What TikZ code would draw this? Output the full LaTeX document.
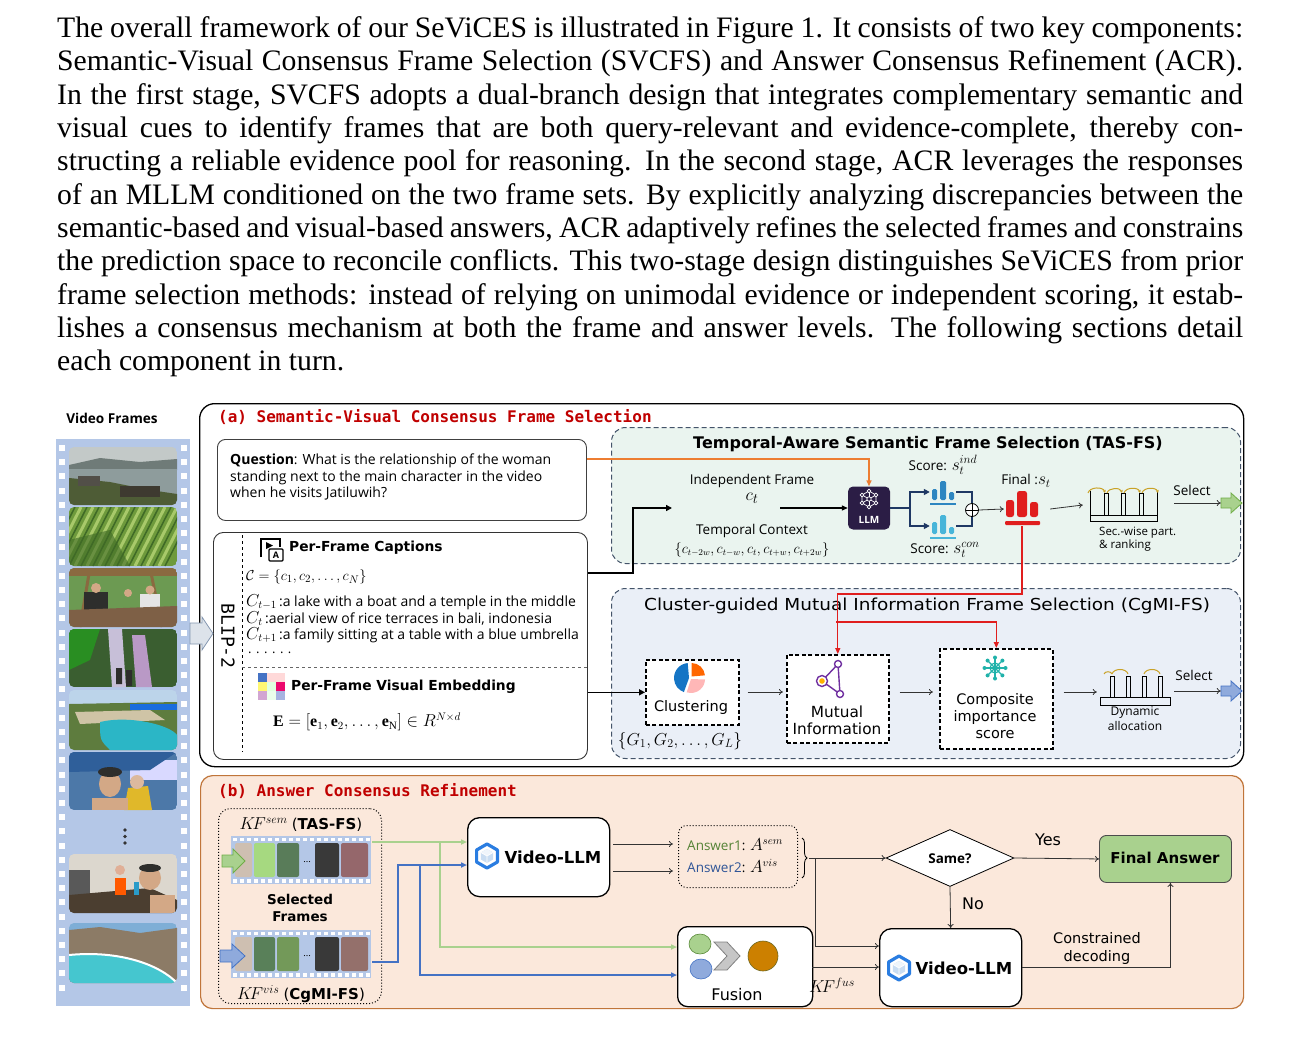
\documentclass[tikz,border=0pt]{standalone}
\usepackage{graphicx}
\usepackage{fontspec}
\setmainfont{Liberation Serif}
\newfontfamily\osans{Open Sans}
\newfontfamily\comic{DejaVu Sans}
\newfontfamily\monof{DejaVu Sans Mono}
\usetikzlibrary{arrows.meta,calc,shapes.geometric,decorations.pathreplacing}
\newcommand\fsz[2]{\fontsize{#1}{#2}\selectfont}
\definecolor{redtitle}{HTML}{C00000}
\definecolor{filmblue}{HTML}{B4C7E7}
\definecolor{tasfill}{HTML}{EAF4EF}
\definecolor{cgfill}{HTML}{EAEFF7}
\definecolor{dashc}{HTML}{44546A}
\definecolor{bfill}{HTML}{FBE8DB}
\definecolor{bborder}{HTML}{C0753A}
\definecolor{orangec}{HTML}{ED7D31}
\definecolor{navyc}{HTML}{1F3864}
\definecolor{redc}{HTML}{E01E1E}
\definecolor{greenl}{HTML}{A9D18E}
\definecolor{greend}{HTML}{70AD47}
\definecolor{bluel}{HTML}{8FAADC}
\definecolor{blued}{HTML}{4472C4}
\definecolor{llmpurple}{HTML}{2B1D45}
\definecolor{goldc}{HTML}{C9A227}
\definecolor{vblue}{HTML}{2A7DE1}
\definecolor{cubeb}{HTML}{C9DDF2}
\definecolor{ansgreen}{HTML}{548235}
\definecolor{ansblue}{HTML}{2F5597}
\definecolor{barblue}{HTML}{2E86C1}
\definecolor{barcyan}{HTML}{48B5D9}
\definecolor{tealc}{HTML}{20B2AA}
\definecolor{purpc}{HTML}{7030A0}
\definecolor{blipfill}{HTML}{DDE3EA}
\definecolor{blipdraw}{HTML}{8497B0}
% photo colours
\definecolor{pSky}{HTML}{C3C9C8}
\definecolor{pLake}{HTML}{8E9C9C}
\definecolor{pMount}{HTML}{6F7B78}
\definecolor{pLand}{HTML}{4E5C36}
\definecolor{pTemple}{HTML}{3E3A30}
\definecolor{pRice}{HTML}{6E9A3C}
\definecolor{pRiceL}{HTML}{A8C96A}
\definecolor{pRiceD}{HTML}{3F6A26}
\definecolor{pRoof}{HTML}{8A6A40}
\definecolor{pLeaf}{HTML}{6C9A52}
\definecolor{pDark}{HTML}{2E2E2C}
\definecolor{pSkin}{HTML}{D3A886}
\definecolor{pTable}{HTML}{7E6046}
\definecolor{pJungle}{HTML}{3A5E30}
\definecolor{pFall}{HTML}{C7BFD8}
\definecolor{pSkyB}{HTML}{BCD4EA}
\definecolor{pCliff}{HTML}{CFC4A6}
\definecolor{pSea}{HTML}{2BB6C6}
\definecolor{pGrass}{HTML}{5E7C3E}
\definecolor{pCanopy}{HTML}{2F5F9A}
\definecolor{pOcean}{HTML}{4C78A8}
\definecolor{pVest}{HTML}{E0B82A}
\definecolor{pWall}{HTML}{DCD7CE}
\definecolor{pHill}{HTML}{8C7B66}
\definecolor{pBay}{HTML}{45C6CF}
\definecolor{pBlueSky}{HTML}{7FAED6}
\tikzset{
  blk/.style={line width=1.5pt, -{Triangle[length=6pt,width=6pt]}},
  barr/.style={line width=0.8pt, draw=black!80, -{To[length=4pt,width=6pt]}},
  navyl/.style={draw=navyc, line width=1.6pt},
  dbox/.style={draw=black, line width=1.6pt, dash pattern=on 4pt off 2.5pt, fill=white, inner sep=0pt, anchor=north west},
  rbox/.style={draw=black, line width=1.3pt, fill=white, rounded corners=12pt, inner sep=0pt, anchor=north west},
  ctext/.style={font=\comic\fsz{14.5}{17}, align=center, inner sep=0pt},
  stext/.style={font=\osans\fsz{13.5}{16}, inner sep=0pt},
}
\newcommand\sstrip[6]{%
  \fill[filmblue] (231,#1) rectangle (371,{#1+48});
  \foreach \k in {0,...,19} {\fill[white] ({233+\k*7},{#1+1.5}) rectangle ++(3.5,3.5);
                             \fill[white] ({233+\k*7},{#1+43}) rectangle ++(3.5,3.5);}
  \fill[#2, rounded corners=2pt] (235,{#1+7}) rectangle (252,{#1+41});
  \fill[#3, rounded corners=2pt] (254,{#1+7}) rectangle (275,{#1+41});
  \fill[#4, rounded corners=2pt] (277,{#1+7}) rectangle (299,{#1+41});
  \node[font=\fsz{10}{10}, inner sep=0] at (307,{#1+26}) {...};
  \fill[#5, rounded corners=2pt] (315,{#1+7}) rectangle (339,{#1+41});
  \fill[#6, rounded corners=2pt] (341,{#1+7}) rectangle (368,{#1+41});
}
\newcommand\vllmicon[2]{%
  \begin{scope}[shift={(#1,#2)}]
    \draw[vblue, line width=3.2pt, line join=round] (90:12) -- (30:12) -- (-30:12) -- (-90:12) -- (-150:12) -- (150:12) -- cycle;
    \fill[cubeb] (90:7) -- (30:7) -- (-30:7) -- (-90:7) -- (-150:7) -- (150:7) -- cycle;
    \fill[white!70!cubeb] (0,0) -- (-30:7) -- (-90:7) -- (-150:7) -- cycle;
    \draw[white, line width=0.7pt] (0,0) -- (90:7) (0,0) -- (-30:7) (0,0) -- (-150:7);
  \end{scope}}
\begin{document}
\begin{tikzpicture}[x=1pt,y=-1pt]
\useasboundingbox (0,0) rectangle (1300,1043);
\fill[white] (0,0) rectangle (1300,1043);

% ---------------- paragraph
\node[anchor=north west, inner sep=0pt, align=left, font=\fsz{29.7}{33.3}] (para) at (57,16.5) {%
\makebox[1186pt][s]{The overall framework of our SeViCES is illustrated in Figure 1. It consists of two key components:}\\
\makebox[1186pt][s]{Semantic-Visual Consensus Frame Selection (SVCFS) and Answer Consensus Refinement (ACR).}\\
\makebox[1186pt][s]{In the first stage, SVCFS adopts a dual-branch design that integrates complementary semantic and}\\
\makebox[1186pt][s]{visual cues to identify frames that are both query-relevant and evidence-complete, thereby con-}\\
\makebox[1186pt][s]{structing a reliable evidence pool for reasoning. In the second stage, ACR leverages the responses}\\
\makebox[1186pt][s]{of an MLLM conditioned on the two frame sets. By explicitly analyzing discrepancies between the}\\
\makebox[1186pt][s]{semantic-based and visual-based answers, ACR adaptively refines the selected frames and constrains}\\
\makebox[1186pt][s]{the prediction space to reconcile conflicts. This two-stage design distinguishes SeViCES from prior}\\
\makebox[1186pt][s]{frame selection methods: instead of relying on unimodal evidence or independent scoring, it estab-}\\
\makebox[1186pt][s]{lishes a consensus mechanism at both the frame and answer levels. The following sections detail}\\
each component in turn.};

% ---------------- video frames strip
\node[font=\osans\bfseries\fsz{13.6}{16}] (vflabel) at (112,418) {Video Frames};
\fill[filmblue] (56,439) rectangle (190,1006);
\foreach \k in {0,...,38} {\fill[white] (59,{445+\k*14.2}) rectangle ++(6,6);
                           \fill[white] (181,{445+\k*14.2}) rectangle ++(6,6);}
% frame 1: lake and temple
\begin{scope}
  \clip[rounded corners=5pt] (69,447) rectangle (177,505);
  \fill[pSky] (69,447) rectangle (177,505);
  \fill[pMount] (69,465) -- (100,458) -- (140,462) -- (177,459) -- (177,470) -- (69,470) -- cycle;
  \fill[pLake] (69,469) rectangle (177,505);
  \fill[pLand] (69,478) -- (110,482) -- (150,490) -- (177,494) -- (177,505) -- (69,505) -- cycle;
  \fill[pTemple] (120,486) rectangle (160,497);
  \fill[pTemple!70!gray] (78,476) rectangle (100,486);
\end{scope}
% frame 2: rice terraces
\begin{scope}
  \clip[rounded corners=5pt] (69,507) rectangle (177,566);
  \fill[pRice] (69,507) rectangle (177,566);
  \foreach \d in {0,12,...,120} {\draw[pRiceL, line width=3pt] ({69+\d},507) -- ({39+\d},566);
                                  \draw[pRiceD, line width=1.5pt] ({75+\d},507) -- ({45+\d},566);}
  \fill[pRiceD, opacity=0.6] (69,540) -- (110,530) -- (130,566) -- (69,566) -- cycle;
\end{scope}
% frame 3: family at table
\begin{scope}
  \clip[rounded corners=5pt] (69,568) rectangle (177,627);
  \fill[pLeaf] (69,568) rectangle (177,627);
  \fill[pRoof] (69,568) rectangle (177,576);
  \draw[pRoof, line width=3pt] (90,568) -- (80,627) (150,568) -- (162,627);
  \fill[pDark] (84,592) rectangle (108,620);
  \fill[pSkin] (96,588) circle (5);
  \fill[white!80!gray] (140,594) rectangle (160,620);
  \fill[pSkin] (150,590) circle (4.5) (128,593) circle (4);
  \fill[pTable] (69,610) -- (177,606) -- (177,627) -- (69,627) -- cycle;
\end{scope}
% frame 4: waterfall
\begin{scope}
  \clip[rounded corners=5pt] (69,629) rectangle (177,687);
  \fill[pJungle] (69,629) rectangle (177,687);
  \fill[pFall] (108,629) -- (122,629) -- (126,687) -- (112,687) -- cycle;
  \fill[pFall!80!violet] (132,635) -- (145,635) -- (152,687) -- (136,687) -- cycle;
  \fill[green!30!pJungle] (69,629) -- (100,629) -- (90,660) -- (69,670) -- cycle;
  \fill[pDark] (116,668) rectangle (122,684) (126,670) rectangle (132,686);
\end{scope}
% frame 5: coast
\begin{scope}
  \clip[rounded corners=5pt] (69,690) rectangle (177,750);
  \fill[pSkyB] (69,690) rectangle (177,750);
  \fill[pGrass] (69,704) -- (177,702) -- (177,750) -- (69,750) -- cycle;
  \fill[pCliff] (75,712) -- (150,710) -- (165,720) -- (80,724) -- cycle;
  \fill[pSea] (100,722) .. controls (130,715) and (170,725) .. (177,735) -- (177,750) -- (110,750) .. controls (100,740) .. (100,722);
  \fill[pSea!60!blue] (130,704) rectangle (177,710);
\end{scope}
% frame 6: boat selfie
\begin{scope}
  \clip[rounded corners=5pt] (69,752) rectangle (177,810);
  \fill[pOcean] (69,752) rectangle (177,810);
  \fill[white!85!blue] (130,760) rectangle (177,780);
  \fill[pCanopy] (69,752) -- (177,752) -- (150,770) -- (69,772) -- cycle;
  \fill[pSkin] (110,784) ellipse (11 and 13);
  \fill[pDark] (110,772) ellipse (12 and 5);
  \fill[pVest] (128,788) -- (148,786) -- (152,810) -- (124,810) -- cycle;
  \fill[pSkin!80!white] (137,782) circle (7);
  \fill[pSkin] (92,798) rectangle (128,810);
\end{scope}
% frame 7: interior
\begin{scope}
  \clip[rounded corners=5pt] (69,854) rectangle (177,913);
  \fill[pWall] (69,854) rectangle (177,913);
  \fill[gray!70!black] (69,870) rectangle (90,913);
  \fill[pDark!80!brown] (69,895) -- (150,888) -- (177,900) -- (177,913) -- (69,913) -- cycle;
  \fill[pSkin] (150,878) ellipse (11 and 12);
  \fill[pDark] (150,868) ellipse (11 and 4);
  \fill[pSkin] (150,895) rectangle (175,913);
  \fill[pSkin!70!pink] (120,870) circle (5);
  \fill[orange!70!red] (115,878) rectangle (126,895);
  \fill[cyan!60!teal] (134,882) rectangle (139,895);
\end{scope}
% frame 8: hills and bay
\begin{scope}
  \clip[rounded corners=5pt] (69,923) rectangle (177,983);
  \fill[pBlueSky] (69,923) rectangle (177,983);
  \fill[pHill] (69,930) -- (100,927) -- (140,933) -- (177,928) -- (177,983) -- (69,983) -- cycle;
  \fill[pBay] (69,955) .. controls (120,950) and (160,965) .. (177,983) -- (69,983) -- cycle;
  \draw[white, line width=2pt] (69,955) .. controls (120,950) and (160,965) .. (177,983);
\end{scope}
\fill[black!80] (125,830) circle (1.8) (125,836.5) circle (1.8) (125,843) circle (1.8);

% ---------------- panel (a)
\node[draw, line width=1.3pt, rounded corners=15pt, minimum width=1044pt, minimum height=363pt, inner sep=0pt, anchor=north west] (panelA) at (199,403) {};
\node[anchor=west, font=\monof\bfseries\fsz{16}{19}, text=redtitle, inner sep=0pt] (tA) at (218,417) {(a) Semantic-Visual Consensus Frame Selection};

% question
\node[draw=black!75, line width=0.9pt, rounded corners=8pt, minimum width=369pt, minimum height=81pt, anchor=north west, inner sep=0pt] (qbox) at (217,439) {};
\node[anchor=north west, align=left, font=\osans\fsz{14}{16.3}, inner sep=0pt] (qtext) at (230,454) {\textbf{Question}: What is the relationship of the woman\\standing next to the main character in the video\\when he visits Jatiluwih?};

% captions box
\node[draw=black!80, line width=0.9pt, rounded corners=10pt, minimum width=374pt, minimum height=227pt, anchor=north west, inner sep=0pt] (capbox) at (213,532) {};
\draw[dashed, line width=0.7pt] (242,535) -- (242,752);
\draw[dashed, line width=0.6pt, black!60] (242,667) -- (587,667);
\node[rotate=-90, font=\monof\fsz{18}{20}, inner sep=0pt] (blip) at (228,636) {BLIP-2};
\draw[fill=blipfill, draw=blipdraw, line width=0.8pt] (190,623) -- (202,623) -- (202,617) -- (213,633.5) -- (202,650) -- (202,644) -- (190,644) -- cycle;

% captions icon
\draw[line width=1.3pt] (261,557) -- (261,539) -- (280,539) -- (280,547);
\fill (266,542) -- (273,545.5) -- (266,549) -- cycle;
\draw[line width=1.2pt, rounded corners=1pt, fill=white] (269,549) rectangle (283,561);
\node[font=\osans\bfseries\fsz{9}{9}, inner sep=0pt] (aicon) at (276,555.3) {A};
\node[anchor=west, font=\comic\bfseries\fsz{13.8}{16}, inner sep=0pt] (capt) at (289,548) {Per-Frame Captions};
\node[anchor=west, font=\fsz{15}{16}, inner sep=0pt] (cset) at (246,577) {$\mathcal{C}=\{c_1,c_2,\dots,c_N\}$};
\node[anchor=west, font=\osans\fsz{14}{16}, inner sep=0pt] (cap1) at (246,602) {{\fsz{16}{16}$C_{t-1}$}\,:a lake with a boat and a temple in the middle};
\node[anchor=west, font=\osans\fsz{14}{16}, inner sep=0pt] (cap2) at (246,618.5) {{\fsz{16}{16}$C_{t}$}\,:aerial view of rice terraces in bali, indonesia};
\node[anchor=west, font=\osans\fsz{14}{16}, inner sep=0pt] (cap3) at (246,635) {{\fsz{16}{16}$C_{t+1}$}\,:a family sitting at a table with a blue umbrella};
\node[anchor=west, font=\osans\fsz{13}{16}, inner sep=0pt] (cdots) at (248,653) {. . . . . .};

% embedding icon
\foreach \c [count=\i from 0] in {blued,pink!60!white,red!15!white,yellow!55!white,green!12!white,magenta!70!red,violet!35!white,green!8!white,cyan!35!blue!35!white} {
  \pgfmathtruncatemacro\col{mod(\i,3)}
  \pgfmathtruncatemacro\row{div(\i,3)}
  \fill[\c] ({258+\col*9},{673+\row*9}) rectangle ++(9,9);
}
\node[anchor=west, font=\comic\bfseries\fsz{13.8}{16}, inner sep=0pt] (embt) at (291,687) {Per-Frame Visual Embedding};
\node[anchor=west, font=\fsz{16}{18}, inner sep=0pt] (eform) at (273,722) {$\mathbf{E}=[\mathbf{e}_1,\mathbf{e}_2,\dots,\mathbf{e}_{\mathrm{N}}]\in R^{N\times d}$};

% ---------------- TAS-FS
\node[draw=dashc, line width=1pt, dash pattern=on 5pt off 3pt, fill=tasfill, rounded corners=14pt, minimum width=629pt, minimum height=136pt, anchor=north west, inner sep=0pt] (tas) at (611,427) {};
\node[font=\comic\bfseries\fsz{16}{18}, inner sep=0pt] (tast) at (928,444) {Temporal-Aware Semantic Frame Selection (TAS-FS)};
\node[stext] (indep) at (752,481) {Independent Frame};
\node[font=\fsz{19}{20}, inner sep=0pt] (ct) at (752,498) {$c_t$};
\node[stext] (tctx) at (752,531) {Temporal Context};
\node[font=\fsz{13.5}{16}, inner sep=0pt] (tset) at (752,550) {$\{c_{t-2w},c_{t-w},c_t,c_{t+w},c_{t+2w}\}$};
\coordinate (tasin) at (672,508);
\coordinate (tasmid) at (780,508);

% LLM icon
\node[fill=llmpurple, rounded corners=5pt, minimum width=42pt, minimum height=43pt, inner sep=0pt] (llm) at (869,508) {};
\begin{scope}[shift={(869,499)}]
  \draw[white, line width=0.7pt] (30:8) -- (90:8) -- (150:8) -- (210:8) -- (270:8) -- (330:8) -- cycle;
  \foreach \a in {30,90,...,330} {\draw[white, line width=0.7pt] (0,0) -- (\a:8); \draw[white, fill=llmpurple, line width=0.7pt] (\a:8) circle (1.9);}
  \draw[white, fill=llmpurple, line width=0.7pt] (0,0) circle (2.2);
\end{scope}
\node[font=\osans\bfseries\fsz{10}{10}, text=white, inner sep=0pt] (llmt) at (869,520) {LLM};

% score icons
\node[minimum width=26pt, minimum height=22pt, inner sep=0pt] (bar1) at (943,492) {};
\node[minimum width=26pt, minimum height=22pt, inner sep=0pt] (bar2) at (943,526) {};
\fill[barblue, rounded corners=1.5pt] (932,500) rectangle (937,489) (940,500) rectangle (946,481) (949,500) rectangle (954,492);
\fill[barblue] (930,502.5) rectangle (956,504.5);
\fill[barcyan, rounded corners=1.5pt] (932,534) rectangle (937,522) (940,534) rectangle (946,515) (949,534) rectangle (954,527);
\fill[barcyan] (930,536.5) rectangle (956,538.5);
\node[font=\osans\fsz{13.5}{16}, inner sep=0pt] (sind) at (943,465) {Score: {\fsz{17}{17}$s_t^{ind}$}};
\node[font=\osans\fsz{13.5}{16}, inner sep=0pt] (scon) at (945,550) {Score: {\fsz{17}{17}$s_t^{con}$}};
\node[circle, draw, line width=0.8pt, minimum size=13pt, inner sep=0pt, fill=white] (plus) at (972,510) {};
\draw[line width=0.8pt] (966,510) -- (978,510) (972,504) -- (972,516);

% final icon
\node[minimum width=36pt, minimum height=34pt, inner sep=0pt] (redi) at (1022,509) {};
\fill[redc, rounded corners=2.5pt] (1006,517) rectangle (1014,500) (1017,517) rectangle (1027,491) (1030,517) rectangle (1038,502);
\fill[redc, rounded corners=1pt] (1005,521) rectangle (1040,525);
\node[font=\osans\fsz{13.5}{16}, inner sep=0pt] (fin) at (1026,481) {Final :{\fsz{17}{17}$s_t$}};

% ranking icon
\node[minimum width=70pt, minimum height=36pt, inner sep=0pt] (rank) at (1124,505) {};
\begin{scope}[shift={(1090,487)}]
  \draw[line width=0.9pt] (0,4) -- (0,34) -- (67,34) -- (67,4);
  \draw[line width=0.9pt] (0,28) -- (67,28);
  \draw[line width=0.8pt] (14,6) rectangle (18,28) (31,6) rectangle (35,28) (49,6) rectangle (53,28);
  \foreach \a/\b in {-2/15,17/32,34/50,52/68} {\draw[goldc, line width=1pt, -{Stealth[length=3pt,width=3pt]}] (\a,6) to[bend left=75] (\b,6);}
\end{scope}
\node[anchor=west, align=left, font=\osans\fsz{11.5}{13.5}, inner sep=0pt] (rankt) at (1099,539) {Sec.-wise part.\\\& ranking};
\node[font=\osans\fsz{13.5}{16}, inner sep=0pt] (sel1) at (1192,490) {Select};
\coordinate (sel1s) at (1174,503);
\node[minimum width=20pt, minimum height=20pt, inner sep=0pt] (garr) at (1231,503) {};
\draw[fill=greenl, draw=greend, line width=0.8pt] (1221,498) -- (1231,498) -- (1231,493) -- (1242,503) -- (1231,513) -- (1231,508) -- (1221,508) -- cycle;

% ---------------- CgMI-FS
\node[draw=dashc, line width=1pt, dash pattern=on 5pt off 3pt, fill=cgfill, rounded corners=14pt, minimum width=629pt, minimum height=170pt, anchor=north west, inner sep=0pt] (cgmi) at (611,588) {};
\node[font=\comic\fsz{16.5}{18}, inner sep=0pt] (cgt) at (927,606) {\scalebox{1.12}[1]{Cluster-guided Mutual Information Frame Selection (CgMI-FS)}};
\node[dbox, minimum width=93pt, minimum height=65pt] (clus) at (645,659) {};
\node[dbox, minimum width=102pt, minimum height=88pt] (mi) at (786,654) {};
\node[dbox, minimum width=113pt, minimum height=100pt] (comp) at (939,648) {};
\coordinate (row) at (0,692);

% pie
\begin{scope}[shift={(690,678)}, yscale=-1]
  \fill[cyan!55!blue] (-1,0) -- ++(95:15) arc[start angle=95, end angle=250, radius=15] -- cycle;
  \fill[orange!80!red] (1.5,1.5) -- ++(5:13.5) arc[start angle=5, end angle=90, radius=13.5] -- cycle;
  \fill[pink!75!red!65!white] (1,-1) -- ++(252:14) arc[start angle=252, end angle=358, radius=14] -- cycle;
\end{scope}
\node[ctext] (clust) at (691,707) {Clustering};
\node[font=\fsz{17.5}{19}, inner sep=0pt] (gset) at (680,741) {$\{G_1,G_2,\dots,G_L\}$};

% mutual info icon
\draw[purpc, line width=1.4pt] (822,681) -- (838,664) -- (840,694) -- cycle;
\draw[purpc, line width=1.4pt, fill=white] (822,681) circle (5.5);
\fill[orange!60!yellow] (822,681) circle (2.8);
\draw[purpc, line width=1.4pt, fill=white] (838,664) circle (3.5) (840,694) circle (3.5);
\node[ctext, font=\comic\fsz{15.3}{17}] (mit) at (837,720) {Mutual\\Information};

% composite icon
\begin{scope}[shift={(995,668)}]
  \draw[tealc, line width=1.2pt] (0,0) circle (5);
  \foreach \a in {0,45,...,315} {\draw[tealc, line width=1.1pt] (0,0) -- (\a:10); \fill[tealc] (\a:10.5) circle (2);}
\end{scope}
\node[ctext] (compt) at (995,716) {Composite\\importance\\score};

% dynamic allocation icon
\node[minimum width=70pt, minimum height=35pt, inner sep=0pt] (dyn) at (1135,688) {};
\begin{scope}[shift={(1100,670)}]
  \draw[line width=0.9pt] (0,27) rectangle (70,35);
  \draw[line width=0.8pt] (10,6) rectangle (14,27) (26,6) rectangle (30,27) (42,6) rectangle (46,27) (58,6) rectangle (62,27);
  \foreach \a/\b in {4/12,12/28,44/60} {\draw[goldc, line width=1pt] (\a,4) to[bend left=75] (\b,4);}
\end{scope}
\node[align=center, font=\osans\fsz{12}{15}, inner sep=0pt] (dynt) at (1135,719) {Dynamic\\allocation};
\node[font=\osans\fsz{13.5}{16}, inner sep=0pt] (sel2) at (1194,675) {Select};
\coordinate (sel2s) at (1174,691);
\node[minimum width=20pt, minimum height=20pt, inner sep=0pt] (barr2) at (1231,691) {};
\draw[fill=bluel, draw=blued, line width=0.8pt] (1221,686) -- (1231,686) -- (1231,681) -- (1242,691) -- (1231,701) -- (1231,696) -- (1221,696) -- cycle;

% ---------------- connectors (a)
\draw[orangec, line width=1.4pt, -{Triangle[length=6pt,width=5pt]}] ([yshift=-20pt]qbox.north east) -| (llm.north);
\draw[blk] ([yshift=-41pt]capbox.north east) -- ++(45,0) |- (tasin);
\draw[line width=1.2pt, -{Triangle[length=6pt,width=5pt]}] (tasmid) -- (llm.west);
\coordinate (split) at (910,508);
\draw[navyl] (llm.east) -- (split);
\draw[navyl, -{Triangle[length=6pt,width=6pt]}] (split) |- (bar1.west);
\draw[navyl, -{Triangle[length=6pt,width=6pt]}] (split) |- (bar2.west);
\draw[navyl] (bar1.east) -| (plus.north);
\draw[navyl] (bar2.east) -| (plus.south);
\draw[barr] (plus.east) -- (redi.west);
\draw[barr] ([xshift=10pt]redi.east) -- ([xshift=-6pt]rank.west);
\draw[barr] (sel1s) -- (garr.west);
\coordinate (r1) at (1022,594);
\coordinate (r3) at (836,622);
\draw[redc, line width=1.2pt, -{Triangle[length=6pt,width=5pt]}] (redi.south) -- (r1) -- (mi.north |- r1) -- (mi.north);
\draw[redc, line width=1.2pt, -{Triangle[length=6pt,width=5pt]}] (r3) -| (comp.north);
\draw[blk] (capbox.east |- clus.west) -- (clus.west);
\draw[barr] ($(clus.east |- row)+(8,0)$) -- ($(mi.west |- row)+(-3,0)$);
\draw[barr] ($(mi.east |- row)+(10,0)$) -- ($(comp.west |- row)+(-6,0)$);
\draw[barr] ($(comp.east |- row)+(10,0)$) -- ($(dyn.west |- row)+(-3,0)$);
\draw[barr] (sel2s) -- (barr2.west);

% ---------------- panel (b)
\node[draw=bborder, fill=bfill, line width=1.2pt, rounded corners=12pt, minimum width=1043pt, minimum height=233pt, inner sep=0pt, anchor=north west] (panelB) at (200,775) {};
\node[anchor=west, font=\monof\bfseries\fsz{16}{19}, text=redtitle, inner sep=0pt] (tB) at (218,791) {(b) Answer Consensus Refinement};
\node[draw, dotted, line width=1pt, rounded corners=12pt, minimum width=163pt, minimum height=195pt, anchor=north west, inner sep=0pt] (selbox) at (218,808) {};
\node[font=\fsz{17}{19}, inner sep=0pt] (kfsem) at (301,825) {$K\!F^{sem}$ {\comic\fsz{15}{17}(\textbf{TAS-FS})}};
\sstrip{836}{gray!55!brown!50!white}{green!40!olive!50!white}{black!55!green!30!gray}{black!55!gray}{blue!35!orange!55!gray}
\node[font=\comic\bfseries\fsz{13.5}{16.5}, align=center, inner sep=0pt] (selt) at (300,908) {Selected\\Frames};
\sstrip{930}{gray!55!brown!50!white}{black!50!green!30!gray}{brown!50!green!40!gray}{black!55!gray}{blue!30!orange!40!gray}
\node[font=\fsz{17}{19}, inner sep=0pt] (kfvis) at (301,994) {$K\!F^{vis}$ {\comic\fsz{15}{17}(\textbf{CgMI-FS})}};
\draw[fill=greenl, draw=greend, line width=0.8pt] (222,855) -- (233,855) -- (233,849) -- (245,861) -- (233,873) -- (233,867) -- (222,867) -- cycle;
\draw[fill=bluel, draw=blued, line width=0.8pt] (220,950) -- (232,950) -- (232,944) -- (245,956) -- (232,968) -- (232,962) -- (220,962) -- cycle;
\coordinate (s1out) at (372,842);
\coordinate (s2out) at (372,962);

% Video-LLM 1
\node[rbox, minimum width=142pt, minimum height=79pt] (vl1) at (467,817) {};
\vllmicon{487}{856}
\node[font=\comic\bfseries\fsz{16.5}{19}, inner sep=0pt] (vl1t) at (553,857) {Video-LLM};

% answers
\node[draw, dotted, line width=1pt, rounded corners=8pt, minimum width=119pt, minimum height=62pt, anchor=north west, inner sep=0pt] (ans) at (678,825) {};
\node[anchor=west, font=\osans\fsz{13.5}{15}, inner sep=0pt] (ans1) at (687,845) {\textcolor{ansgreen}{Answer1}: {\fsz{16}{16}$A^{sem}$}};
\node[anchor=west, font=\osans\fsz{13.5}{15}, inner sep=0pt] (ans2) at (687,866) {\textcolor{ansblue}{Answer2}: {\fsz{16}{16}$A^{vis}$}};
\draw[line width=0.8pt, decorate, decoration={brace, amplitude=5pt}] (802,838) -- (802,878);
\coordinate (bt) at (809,858);
\coordinate (bd) at (815,858);

% decision
\node[diamond, draw, line width=0.8pt, fill=white, aspect=2.25, minimum width=128pt, minimum height=57pt, inner sep=0pt] (dia) at (950,858) {};
\node[font=\osans\bfseries\fsz{13.5}{16}, inner sep=0pt] (same) at (950,859) {Same?};
\node[draw=black!70, line width=0.9pt, fill=greenl, rounded corners=7pt, minimum width=132pt, minimum height=47pt, inner sep=0pt, anchor=north west] (fa) at (1099,835) {};
\node[font=\comic\bfseries\fsz{15}{18}, inner sep=0pt] (fat) at (1165,858) {Final Answer};
\node[font=\comic\fsz{16}{18}, inner sep=0pt] (yes) at (1048,840) {Yes};
\node[font=\comic\fsz{16}{18}, inner sep=0pt] (no) at (973,904) {No};

% Video-LLM 2
\node[rbox, minimum width=142pt, minimum height=78pt] (vl2) at (879,928) {};
\vllmicon{899}{968}
\node[font=\comic\bfseries\fsz{16.5}{19}, inner sep=0pt] (vl2t) at (964,968) {Video-LLM};

% fusion
\node[draw=black, line width=1.3pt, fill=white, rounded corners=10pt, minimum width=135pt, minimum height=80pt, anchor=north west, inner sep=0pt] (fus) at (677,926) {};
\draw[fill=greenl, draw=greend!80!black, line width=0.6pt] (700,944) ellipse (11 and 10);
\draw[fill=bluel, draw=blued, line width=0.6pt] (701,969) ellipse (11 and 10);
\draw[fill=gray!45!white, draw=gray, line width=0.8pt] (714,942) -- (727,942) -- (740,956) -- (727,970) -- (714,970) -- (727,956) -- cycle;
\draw[fill=orange!60!olive, draw=olive!70!black, line width=0.6pt] (763,956) circle (15);
\node[font=\comic\fsz{16}{18}, inner sep=0pt] (fust) at (737,995) {Fusion};
\coordinate (fo) at (812,967);
\node[font=\fsz{18}{20}, inner sep=0pt] (kffus) at (832,985) {$K\!F^{fus}$};
\node[font=\comic\fsz{14.5}{18}, align=center, inner sep=0pt] (cdec) at (1097,948) {Constrained\\decoding};

% connectors (b)
\coordinate (g1) at (440,842);
\coordinate (b1) at (398,962);
\coordinate (b2) at (420,865);
\draw[greenl, line width=1.6pt, -{Triangle[length=6pt,width=5pt]}] (s1out) -- (vl1.west |- s1out);
\draw[greenl, line width=1.6pt, -{Triangle[length=6pt,width=5pt]}] (g1) |- ([yshift=-21pt]fus.north west);
\draw[blued, line width=1.6pt, -{Triangle[length=6pt,width=5pt]}] (s2out) -- (b1) |- ([yshift=-48pt]vl1.north west);
\draw[blued, line width=1.6pt, -{Triangle[length=6pt,width=5pt]}] (b2) |- ([yshift=-49pt]fus.north west);
\draw[barr, shorten >=5pt, shorten <=3pt] ([yshift=-27pt]vl1.north east) -- ([yshift=-27pt]vl1.north east -| ans.west);
\draw[barr, shorten >=5pt, shorten <=3pt] ([yshift=-54pt]vl1.north east) -- ([yshift=-54pt]vl1.north east -| ans.west);
\draw[barr] (bt) -- (dia.west);
\draw[barr] (dia.east) -- (fa.west);
\draw[barr] (dia.south) -- (vl2.north);
\draw[barr] (bd) |- ([yshift=-18pt]vl2.north west);
\draw[barr] (fo) -- (fo -| vl2.west);
\draw[barr] (vl2.east |- fo) -| ([xshift=5pt]fa.south);
\end{tikzpicture}
\end{document}
